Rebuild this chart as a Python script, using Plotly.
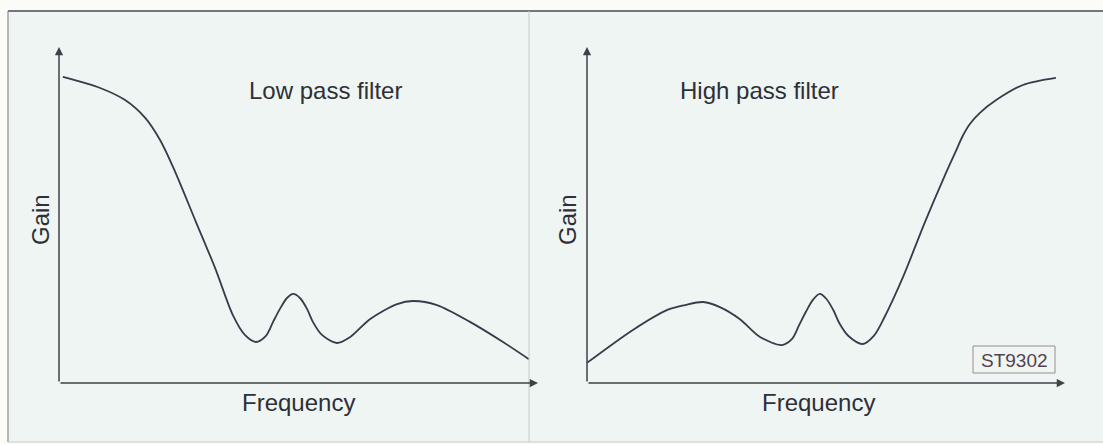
import plotly.graph_objects as go

# ---- data (arbitrary units: frequency 0-10, gain 0-10) ----
low_freq = [0.08, 0.86, 1.38, 1.80, 2.11, 2.38, 2.86, 3.26, 3.63, 3.88, 4.11, 4.32, 4.47,
            4.61, 4.76, 4.89, 5.03, 5.18, 5.30, 5.49, 5.80, 6.08, 6.49, 7.06, 7.39, 7.89,
            8.58, 9.27, 9.81]
low_gain = [9.11, 8.78, 8.42, 7.89, 7.23, 6.43, 4.79, 3.42, 2.02, 1.43, 1.22, 1.40, 1.82,
            2.20, 2.53, 2.65, 2.53, 2.20, 1.82, 1.43, 1.19, 1.37, 1.90, 2.35, 2.44, 2.32,
            1.82, 1.22, 0.71]

high_freq = [0.00, 0.96, 1.67, 2.05, 2.43, 2.78, 3.20, 3.62, 4.08, 4.29, 4.44, 4.58, 4.73,
             4.87, 5.01, 5.16, 5.28, 5.47, 5.77, 6.00, 6.22, 6.61, 7.07, 7.49, 7.70, 7.87,
             8.01, 8.22, 8.56, 9.12, 9.81]
high_gain = [0.60, 1.58, 2.17, 2.32, 2.41, 2.26, 1.90, 1.37, 1.13, 1.31, 1.73, 2.12, 2.48,
             2.65, 2.50, 2.15, 1.78, 1.40, 1.16, 1.40, 1.95, 3.15, 4.79, 6.19, 6.85, 7.38,
             7.71, 8.04, 8.42, 8.87, 9.08]

panel_titles = ["Low pass filter", "High pass filter"]
x_label = "Frequency"
y_label = "Gain"
figure_code = "ST9302"

W, H = 1103, 444


def px(x):
    return x / W


def py(y):
    return 1 - y / H


BG = "#eef5f2"
INK = "#2f2f38"
CURVE = "#3a3a4a"
FONT = "Liberation Sans, Arial, sans-serif"

fig = go.Figure()
fig.add_trace(go.Scatter(x=low_freq, y=low_gain, mode="lines",
                         line=dict(color=CURVE, width=1.8, shape="spline", smoothing=0.85),
                         xaxis="x", yaxis="y", showlegend=False, hoverinfo="skip"))
fig.add_trace(go.Scatter(x=high_freq, y=high_gain, mode="lines",
                         line=dict(color=CURVE, width=1.8, shape="spline", smoothing=0.85),
                         xaxis="x2", yaxis="y2", showlegend=False, hoverinfo="skip"))

ydom = [py(383), py(47)]
ax_common = dict(range=[0, 10], visible=False, fixedrange=True)
fig.update_layout(
    width=W, height=H,
    margin=dict(l=0, r=0, t=0, b=0),
    paper_bgcolor="#fbfcf8",
    plot_bgcolor="rgba(0,0,0,0)",
    xaxis=dict(domain=[px(59), px(538)], **ax_common),
    yaxis=dict(domain=ydom, **ax_common),
    xaxis2=dict(domain=[px(587), px(1065)], anchor="y2", **ax_common),
    yaxis2=dict(domain=ydom, anchor="x2", **ax_common),
)

shapes = [
    # panel background
    dict(type="rect", xref="paper", yref="paper", x0=px(8), x1=1.02, y0=py(442), y1=py(11),
         fillcolor=BG, line=dict(width=0), layer="below"),
    # frame lines
    dict(type="line", xref="paper", yref="paper", x0=px(8), x1=1.0, y0=py(11), y1=py(11),
         line=dict(color="#4a4a58", width=1.5)),
    dict(type="line", xref="paper", yref="paper", x0=px(8), x1=px(8), y0=py(11), y1=py(442),
         line=dict(color="#8a8a8a", width=1.2)),
    dict(type="line", xref="paper", yref="paper", x0=px(8), x1=1.0, y0=py(442), y1=py(442),
         line=dict(color="#c4c8c6", width=1)),
    dict(type="line", xref="paper", yref="paper", x0=px(529), x1=px(529), y0=py(11), y1=py(442),
         line=dict(color="#c8cccb", width=1)),
    # code box
    dict(type="rect", xref="paper", yref="paper", x0=px(973), x1=px(1055), y0=py(373), y1=py(346),
         line=dict(color="#9a8c8c", width=1)),
]
fig.update_layout(shapes=shapes)

anns = []
# axes with arrowheads
for xr, yr in (("x", "y"), ("x2", "y2")):
    anns.append(dict(x=0, y=10, ax=0, ay=0, xref=xr, yref=yr, axref=xr, ayref=yr,
                     showarrow=True, arrowhead=2, arrowsize=1.1, arrowwidth=1.5,
                     arrowcolor="#404048", text=""))
    anns.append(dict(x=10, y=0, ax=0, ay=0, xref=xr, yref=yr, axref=xr, ayref=yr,
                     showarrow=True, arrowhead=2, arrowsize=1.1, arrowwidth=1.5,
                     arrowcolor="#404048", text=""))

text_font = dict(family=FONT, size=24, color=INK)
for title, cx in zip(panel_titles, (325, 759)):
    anns.append(dict(text=title, x=px(cx), y=py(90), xref="paper", yref="paper",
                     showarrow=False, font=text_font, xanchor="center", yanchor="middle"))
for cx in (298, 818):
    anns.append(dict(text=x_label, x=px(cx), y=py(402), xref="paper", yref="paper",
                     showarrow=False, font=text_font, xanchor="center", yanchor="middle"))
for cx in (40, 567):
    anns.append(dict(text=y_label, x=px(cx), y=py(220), xref="paper", yref="paper",
                     showarrow=False, font=text_font, textangle=-90,
                     xanchor="center", yanchor="middle"))
anns.append(dict(text=figure_code, x=px(1014), y=py(360), xref="paper", yref="paper",
                 showarrow=False, font=dict(family=FONT, size=19, color="#55424c"),
                 xanchor="center", yanchor="middle"))
fig.update_layout(annotations=anns)

fig.write_html("out.html", config={"displayModeBar": False},
               post_script="document.body.style.margin='0px';")
